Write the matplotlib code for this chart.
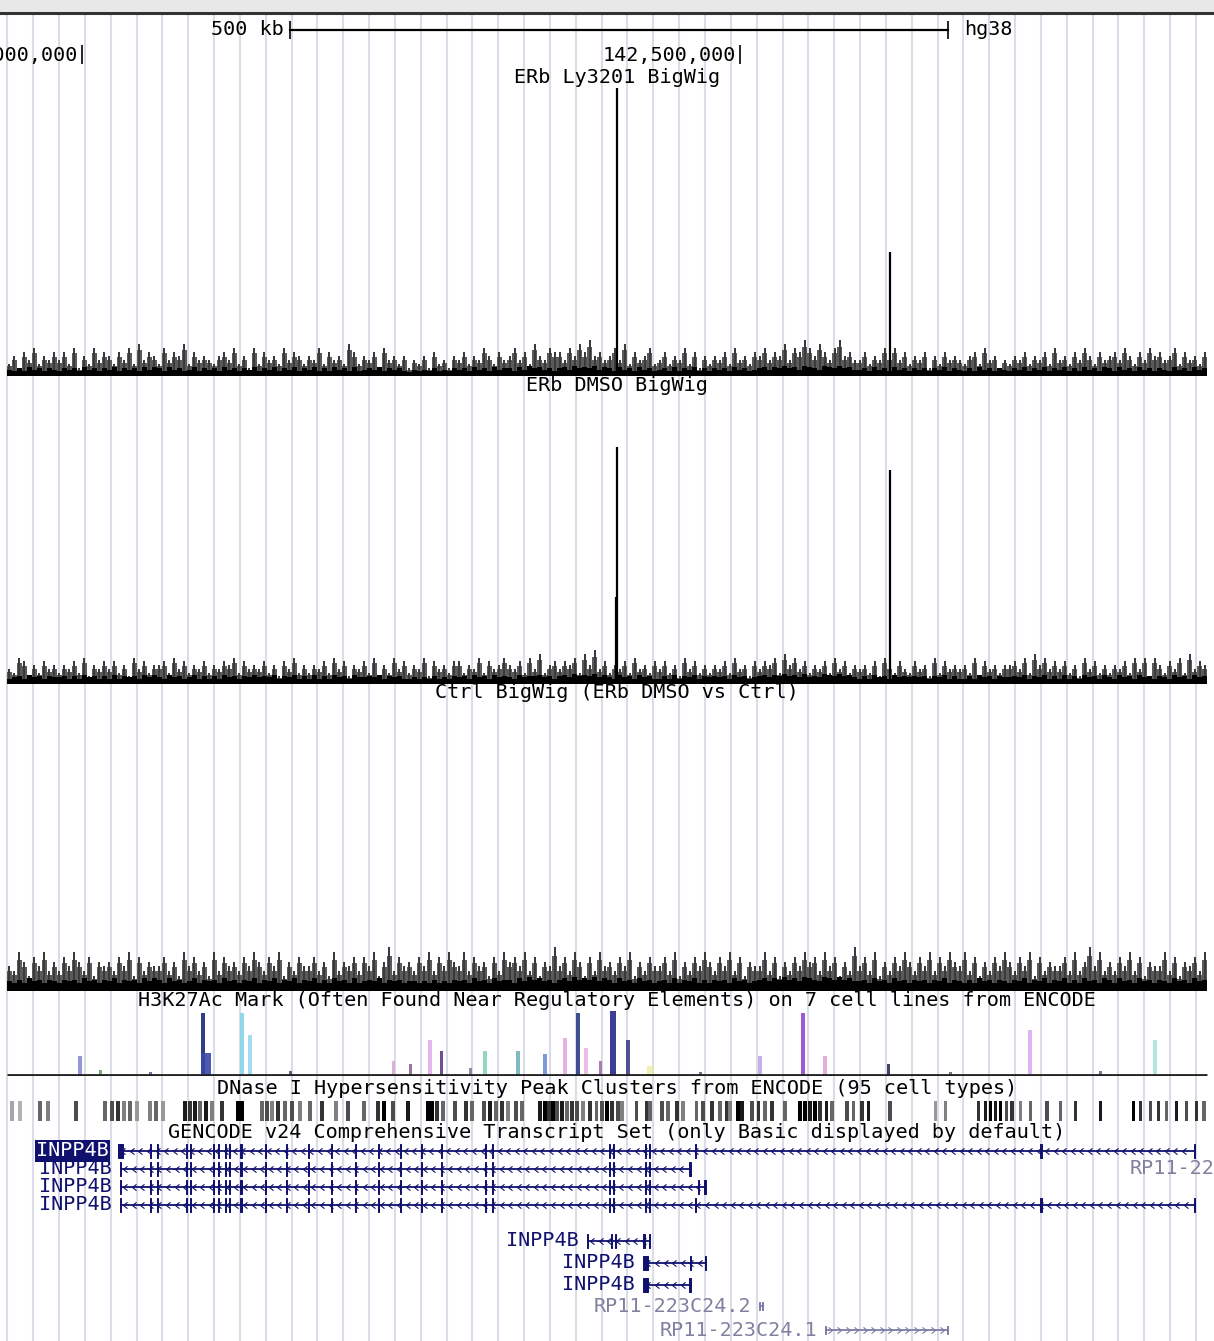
import matplotlib.pyplot as plt
import numpy as np
from matplotlib.path import Path

plt.rcParams['font.family'] = ['DejaVu Sans Mono', 'DejaVu Sans']

W, H = 1214, 1341
KB_PER_PX = 500 / 658.0
WIN_KB = W * KB_PER_PX           # window starts at chr4:141,938 kb; all positions below are kb from there

# ruler
ruler_kb = [62.0, 562.0]
ruler_text = ['142,000,000', '142,500,000']
scalebar_kb = [220.4, 720.4]

# bigwig tracks: one digit per bin, "max" layer (grey) and "mean" layer (black)
signal_span_kb = [5.3, 917.2]
ly_max = ("3526473546 4637253746 5364738465 3746583645 4356473527 3645374653 "
          "5473645386 3546274535 2435263425 4635475364 5746385476 6475869564 "
          "5748364573 4635473625 3546374536 5746584769 7586479564 4635475746 "
          "3546253645 4356374524 3546354637 4536475364 5647536475 6457364536")
ly_mean = ("5464756465 4656475646 5746564757 6475645746 5647564657 4657465746 "
           "5746475647 4565746564 3545464546 5647564756 6475867564 6758676857 "
           "6475647564 5647465746 4656475645 6757686758 7658768675 5647564756 "
           "4656465746 5464756465 4657465746 5746475647 6475647564 6547564756")
ly_peaks_kb = [468.9, 676.4]
ly_peaks_val = [100, 43]

dmso_max = ("4376253645 3546372546 4635274635 5637463546 3546573645 4635264735 "
            "3546374625 4637253746 3547264536 6354736457 5463748356 4657385946 "
            "3546374536 4635274635 3546374526 4657385746 3546374635 4536275364 "
            "3645273645 4537264535 5647385746 4635274635 3546374727 5364738465")
dmso_mean = ("4564756465 5646475646 4746564757 5475645746 4647564657 5657465746 "
             "4746475647 5565746564 4545464546 5647564756 5475667564 6758676857 "
             "5475647564 4647465746 5656475645 6757686758 5658768675 4647564756 "
             "5656465746 4464756465 5657465746 4746475647 5475647564 6547564756")
dmso_peaks_kb = [467.8, 468.9, 676.4]
dmso_peaks_val = [30, 82, 74]

ctrl_max = ("5486375846 4758647365 6475837465 5746385746 3847564758 6475836475 "
            "5746384657 4758369475 6475847586 5847563748 6758473659 5748637485 "
            "6475836475 5748364758 6475847365 5847364758 6748573649 5748364758 "
            "6475847586 5847364758 6475837465 5748469584 6475847365 5847365748")
ctrl_mean = ("6575867576 5767586757 6857675868 7586756857 6758675768 5768576857 "
             "6857586758 5676857675 6656575657 6758675867 7586978675 7869787968 "
             "7586758675 6758576857 5767586756 7868797869 8769879786 6758675867 "
             "5767576857 6575867576 5768576857 6857586758 7586758675 7658675867")

# H3K27Ac composite peaks: position kb, height %, width kb, colour of the cell line
h3k_kb = [60.8, 76.0, 114.0, 154.3, 156.6, 183.9, 190.0, 220.4, 298.7, 311.6, 326.8,
          335.2, 357.2, 368.6, 393.7, 414.2, 429.4, 439.3, 445.4, 456.0, 465.9, 477.3,
          494.0, 532.0, 577.6, 610.3, 627.0, 674.9, 722.0, 782.8, 836.0, 877.8]
h3k_val = [31, 9, 6, 95, 35, 95, 62, 8, 23, 18, 54, 38, 12, 38, 38, 34, 58, 95, 43, 23,
           98, 54, 15, 6, 31, 95, 31, 18, 6, 69, 8, 54]
h3k_width = [2.8, 2.3, 2.3, 3.0, 7.0, 2.8, 2.8, 2.3, 2.3, 2.3, 2.8, 2.3, 2.3, 2.8, 2.8,
             2.8, 2.8, 2.8, 2.8, 2.3, 5.0, 2.8, 4.0, 2.3, 2.8, 3.5, 2.8, 2.3, 2.3, 2.8,
             2.3, 2.8]
h3k_color = ['#8a8ad8', '#70a070', '#6060a0', '#1c2878', '#3848a8', '#88d4ec', '#98d8f0',
             '#505070', '#d8a8d8', '#906890', '#e4b0ec', '#603c88', '#8080a0', '#88d4b4',
             '#70b4b8', '#7090d4', '#e4acdc', '#2c3c88', '#ecb4e0', '#a070a8', '#28288c',
             '#404088', '#f0f0a8', '#606080', '#c4a4e4', '#9448cc', '#e4a4d4', '#303058',
             '#706080', '#d8acf0', '#806080', '#a8e4d8']

# DNase clusters: position kb and score (0..1, drawn as grey level)
dnase_kb = [9.1, 15.2, 30.4, 36.5, 57.8, 79.8, 85.1, 89.7, 94.2, 98.8, 104.1, 114.0, 118.6,
            123.9, 140.6, 144.4, 148.2, 152.0, 156.6, 161.1, 168.7, 180.9, 183.9, 199.1,
            202.9, 206.7, 211.3, 216.6, 221.9, 228.0, 235.6, 244.7, 255.4, 264.5, 276.6,
            287.3, 291.8, 298.7, 310.1, 325.3, 328.3, 332.1, 336.7, 345.8, 354.2, 358.7,
            367.8, 372.4, 377.0, 381.5, 386.1, 392.2, 396.7, 410.4, 414.2, 417.2, 420.3,
            423.3, 427.1, 430.9, 434.7, 438.5, 443.1, 448.4, 453.0, 457.5, 461.3, 465.1,
            469.7, 472.7, 483.4, 491.0, 494.0, 503.1, 507.7, 514.5, 519.1, 529.0, 534.3,
            541.1, 547.2, 551.8, 554.8, 560.9, 563.9, 571.5, 576.1, 581.4, 586.7, 596.6,
            608.0, 611.8, 615.6, 619.4, 623.2, 627.8, 632.3, 643.7, 648.3, 655.1, 659.7,
            676.4, 710.6, 718.2, 743.3, 748.6, 752.4, 756.2, 760.0, 764.6, 769.1, 775.2,
            782.8, 795.7, 805.6, 817.0, 836.0, 861.1, 866.4, 874.0, 880.1, 886.2, 893.8,
            901.4, 909.0, 915.0]
dnase_score = [.35, .3, .6, .5, .7, .6, .7, .8, .5, .6, .4, .5, .6, .4, .9, .8, .9, .6, .9,
               .5, .8, 1, 1, .6, .7, .5, .8, .6, .7, .5, .6, .8, .5, .7, .6, .8, 1, .7, .9,
               1, 1, .8, .6, .7, .8, .6, .7, .9, .6, .8, .5, .7, .6, .9, 1, .8, 1, .7, .9,
               .6, .8, .7, .5, .8, .6, .7, 1, .8, .7, .5, .7, .8, .6, .7, .6, .8, .5, .6,
               .7, .8, .6, .8, .5, 1, .9, .7, .8, .6, .8, .6, 1, 1, .9, 1, .8, .9, .6, .7,
               .6, .8, .9, .7, .4, .5, .8, .9, 1, .9, 1, .7, .8, .5, .6, .7, .6, .8, .9, 1,
               .8, .7, .8, .6, .9, .7, .8, .6]

# GENCODE transcripts: name, start, end, strand, exons as (start, length) in kb
inpp4b_core = [(114.0, .9), (119.3, .9), (141.4, .9), (144.4, .9), (161.9, .9), (165.7, .9),
               (171.0, .9), (174.0, .9), (182.0, 2.2), (201.4, .9), (217.4, .9), (234.1, .9),
               (251.6, .9), (269.8, .9), (287.3, .9), (304.0, .9), (320.0, .9), (335.2, .9),
               (368.6, .9), (373.9, .9), (462.8, .9), (465.9, .9), (490.2, .9), (493.2, .9)]
tx_names = ['INPP4B', 'INPP4B', 'INPP4B', 'INPP4B', 'INPP4B', 'INPP4B', 'INPP4B',
            'RP11-223C24.2', 'RP11-223C24.1']
tx_start = [89.7, 91.2, 91.2, 91.2, 446.1, 488.7, 488.7, 576.8, 627.0]
tx_end = [908.2, 524.4, 535.8, 908.2, 494.0, 536.6, 524.4, 579.6, 720.5]
tx_strand = ['-', '-', '-', '-', '-', '-', '-', '-', '+']
tx_exons = [
    [(89.7, 3.8)] + inpp4b_core + [(528.2, .9), (790.0, 1.5), (907.5, .9)],
    [(91.2, .9)] + inpp4b_core + [(523.8, .9)],
    [(91.2, .9)] + inpp4b_core + [(530.5, .9), (535.2, .9)],
    [(91.2, .9)] + inpp4b_core + [(528.2, .9), (790.0, 1.5), (907.5, .9)],
    [(446.1, .9), (464.4, .9), (467.4, .9), (488.7, 1.8), (492.9, .9)],
    [(488.7, 3.6), (524.4, .9), (535.9, .9)],
    [(488.7, 3.6), (523.8, .9)],
    [(576.8, .8), (579.1, .8)],
    [(627.0, .8), (719.8, .8)],
]

# ---------------- layout (pixel rows of the screenshot) ----------------
NAVY = '#10106e'
GREY_TX = '#7c7ca8'
row_y = [1151, 1169, 1187, 1205, 1241, 1263, 1285, 1306, 1330]
tx_color = [NAVY] * 7 + [GREY_TX, GREY_TX]
FS = 14.5

fig = plt.figure(figsize=(W / 100, H / 100), dpi=100)

ax_px = fig.add_axes([0, 0, 1, 1])
ax_px.set_xlim(0, W)
ax_px.set_ylim(H, 0)
ax_px.axis('off')

ax_px.axhspan(0, 11, color='#e8e8e8', zorder=0)
ax_px.axhline(12.5, color='#333333', lw=2.2, zorder=1)
ax_px.vlines(np.arange(7.3, W, 25.84), 14, H, color='#dcdce8', lw=1.5, zorder=0)

titles = ['ERb Ly3201 BigWig', 'ERb DMSO BigWig', 'Ctrl BigWig (ERb DMSO vs Ctrl)',
          'H3K27Ac Mark (Often Found Near Regulatory Elements) on 7 cell lines from ENCODE',
          'DNase I Hypersensitivity Peak Clusters from ENCODE (95 cell types)',
          'GENCODE v24 Comprehensive Transcript Set (only Basic displayed by default)']
title_y = [77, 385, 692, 1000, 1088, 1132]
for t, y in zip(titles, title_y):
    ax_px.text(617, y, t, ha='center', va='center', fontsize=FS, color='black', zorder=6)

# axes with genomic x and pixel y: ruler and genes
ax_kb = fig.add_axes([0, 0, 1, 1])
ax_kb.set_xlim(0, WIN_KB)
ax_kb.set_ylim(H, 0)
ax_kb.axis('off')

ax_kb.plot(scalebar_kb, [30, 30], color='black', lw=1.6)
ax_kb.vlines(scalebar_kb, 21, 39, color='black', lw=1.2)
ax_kb.text(scalebar_kb[0] - 5, 29, '500 kb', ha='right', va='center', fontsize=FS)
ax_kb.text(scalebar_kb[1] + 12, 29, 'hg38', ha='left', va='center', fontsize=FS)
ax_kb.vlines(ruler_kb, 45, 64, color='black', lw=1.2)
for pos, lab in zip(ruler_kb, ruler_text):
    ax_kb.text(pos - 3, 55, lab, ha='right', va='center', fontsize=FS)


def track_axes(top, bottom):
    ax = fig.add_axes([0, 1 - bottom / H, 1, (bottom - top) / H])
    ax.set_xlim(0, WIN_KB)
    ax.set_ylim(0, 100)
    ax.axis('off')
    return ax


def digits(s):
    return np.array([int(c) for c in s.replace(' ', '')], dtype=float)


def draw_signal(ax, max_s, mean_s, max_unit, mean_unit, pk_kb=(), pk_val=()):
    mx = digits(max_s) * max_unit
    mn = digits(mean_s) * mean_unit
    edges = np.linspace(signal_span_kb[0], signal_span_kb[1], len(mx) + 1)
    binw = edges[1] - edges[0]
    ax.stairs(mx * 0.8, edges, fill=True, color='#5a5a5a', lw=0)
    ax.bar(edges[:-1] + binw * 0.5, mx, width=binw * 0.4, color='#3a3a3a', lw=0)
    edges = np.linspace(signal_span_kb[0], signal_span_kb[1], len(mn) + 1)
    ax.stairs(mn, edges, fill=True, color='black', lw=0)
    ax.vlines(pk_kb, 0, pk_val, color='black', lw=1.6)


draw_signal(track_axes(88, 376), ly_max, ly_mean, 1.4, 0.45, ly_peaks_kb, ly_peaks_val)
draw_signal(track_axes(395, 684), dmso_max, dmso_mean, 1.3, 0.45, dmso_peaks_kb, dmso_peaks_val)
draw_signal(track_axes(702, 991), ctrl_max, ctrl_mean, 1.7, 0.55)

ax_h = track_axes(1010, 1076)
ax_h.bar(h3k_kb, h3k_val, width=h3k_width, color=h3k_color, alpha=0.9, lw=0)
ax_h.hlines(1.5, signal_span_kb[0], signal_span_kb[1], color='#202020', lw=2)

ax_d = track_axes(1101, 1121)
ax_d.bar(dnase_kb, 100, width=2.5, bottom=0,
         color=[str(round(1 - s, 2)) for s in dnase_score], lw=0)

chev_left = Path([(0.45, 0.7), (-0.45, 0), (0.45, -0.7)], [Path.MOVETO, Path.LINETO, Path.LINETO])
chev_right = Path([(-0.45, 0.7), (0.45, 0), (-0.45, -0.7)], [Path.MOVETO, Path.LINETO, Path.LINETO])

for i, name in enumerate(tx_names):
    y, c = row_y[i], tx_color[i]
    s, e = tx_start[i], tx_end[i]
    ax_kb.plot([s, e], [y, y], color=c, lw=1.3, solid_capstyle='butt', zorder=4)
    ticks = np.arange(s + 4, e - 2, 6.5)
    ax_kb.plot(ticks, np.full(len(ticks), y), ls='none',
               marker=chev_left if tx_strand[i] == '-' else chev_right,
               ms=4.5, mec=c, mfc='none', mew=0.8, zorder=4)
    half = 7 if c == NAVY else 4
    ax_kb.broken_barh(tx_exons[i], (y - half, 2 * half), facecolors=c, edgecolors=c,
                      lw=0.7, zorder=5)
    if i == 0:
        ax_kb.text(s - 7, y, name, ha='right', va='center', fontsize=FS, color='white',
                   zorder=6, bbox=dict(facecolor=NAVY, edgecolor='none', pad=1.0))
    elif i >= 7:
        ax_kb.text(s - 6, y, name, ha='right', va='center', fontsize=FS, color='#8080a0',
                   zorder=6)
    else:
        ax_kb.text(s - 6, y, name, ha='right', va='center', fontsize=FS, color=NAVY, zorder=6)

# neighbour gene label, cut by the right edge as in the browser view
ax_kb.text(858.7, row_y[1], 'RP11-223C24.3', ha='left', va='center', fontsize=FS,
           color='#8080a0', clip_on=True)

fig.savefig('out.png', dpi=100)
